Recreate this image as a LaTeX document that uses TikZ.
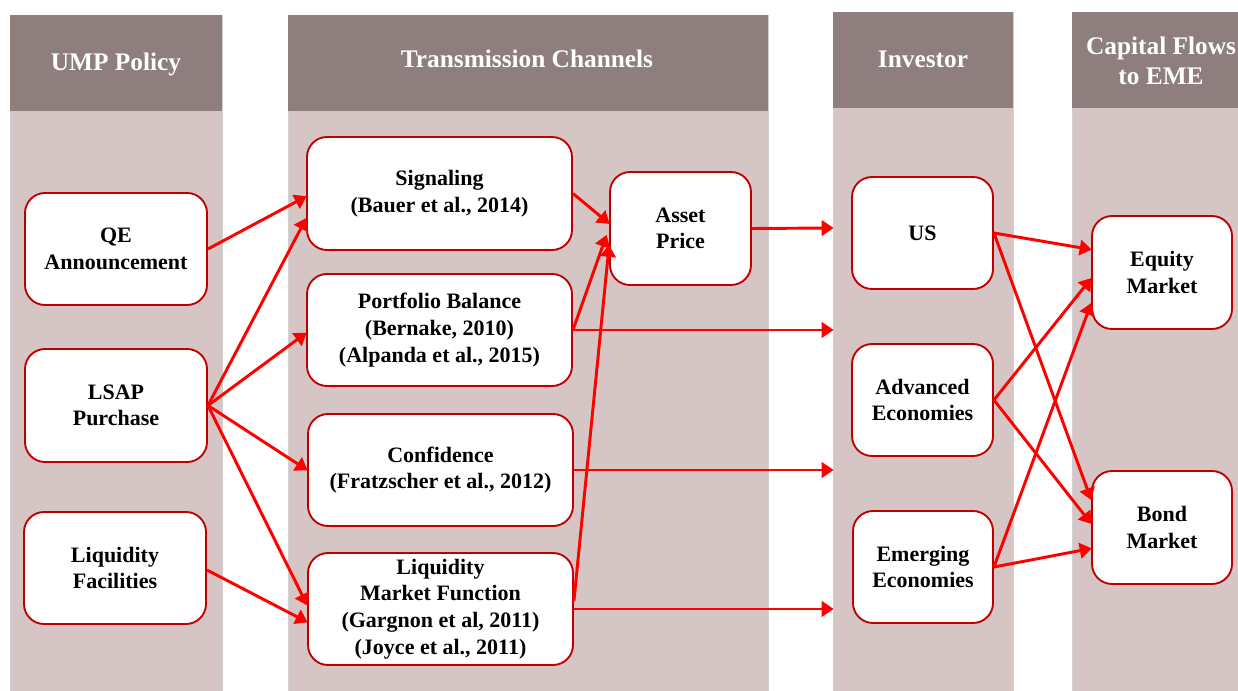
\documentclass[tikz,border=0pt]{standalone}
\usepackage{fontspec}
\setmainfont{Liberation Serif}
\usetikzlibrary{arrows.meta}
\definecolor{hdr}{RGB}{142,126,126}
\definecolor{bdy}{RGB}{213,197,197}
\definecolor{edgered}{RGB}{192,0,0}
\definecolor{arrred}{RGB}{255,0,0}
\begin{document}
\begin{tikzpicture}[x=0.75pt,y=-0.75pt,
  colbody/.style={fill=bdy, draw=black!18, line width=0.5pt},
  colhead/.style={fill=hdr, draw=none},
  htext/.style={text=white, font=\bfseries\fontsize{19}{23}\selectfont, align=center, inner sep=0pt},
  box/.style={draw=edgered, line width=1.4pt, fill=white, rounded corners=15pt, align=center, inner sep=0pt,
              font=\bfseries\fontsize{16.5}{20}\selectfont},
  arrow/.style={draw=arrred, line width=2.2pt, -{Triangle[length=9pt,width=11.5pt]}, shorten >=-0.5pt}
]
\useasboundingbox (0,0) rectangle (1238,691);
\fill[white] (0,0) rectangle (1238,691);

% columns
\draw[colbody] (10,15) rectangle (222,691);
\fill[colhead] (10,15) rectangle (222,111);
\draw[colbody] (288,15) rectangle (768,691);
\fill[colhead] (288,15) rectangle (768,111);
\draw[colbody] (833,12) rectangle (1013,691);
\fill[colhead] (833,12) rectangle (1013,108);
\draw[colbody] (1072,12) rectangle (1240,691);
\fill[colhead] (1072,12) rectangle (1240,108);

\node[htext] (h1) at (116,64) {UMP Policy};
\node[htext] (h2) at (527,59) {Transmission Channels};
\node[htext] (h3) at (923,59) {Investor};
\node[htext] (h4) at (1161,61) {Capital Flows\\to EME};

% boxes
\node[box, minimum width=136.5pt, minimum height=84pt] (qe) at (116,249) {QE\\Announcement};
\node[box, minimum width=136.5pt, minimum height=84.75pt] (lsap) at (116,405.5) {LSAP\\Purchase};
\node[box, minimum width=136.5pt, minimum height=84pt] (lf) at (115,568) {Liquidity\\Facilities};

\node[box, minimum width=198.75pt, minimum height=84.75pt] (sig) at (439.5,193.5) {Signaling\\(Bauer et al., 2014)};
\node[box, minimum width=198.75pt, minimum height=84pt] (port) at (439.5,330) {Portfolio Balance\\(Bernake, 2010)\\(Alpanda et al., 2015)};
\node[box, minimum width=198.75pt, minimum height=84pt] (conf) at (440.5,470) {Confidence\\(Fratzscher et al., 2012)};
\node[box, minimum width=198.75pt, minimum height=84pt] (lmf) at (440.5,609) {Liquidity\\Market Function\\(Gargnon et al, 2011)\\(Joyce et al., 2011)};

\node[box, minimum width=105.75pt, minimum height=84.75pt] (asset) at (680.5,228.5) {Asset\\Price};

\node[box, minimum width=105.75pt, minimum height=84pt] (us) at (922.5,233) {US};
\node[box, minimum width=105.75pt, minimum height=84pt] (adv) at (922.5,400) {Advanced\\Economies};
\node[box, minimum width=105pt, minimum height=84pt] (emg) at (923,567) {Emerging\\Economies};

\node[box, minimum width=105pt, minimum height=84.75pt] (eq) at (1162,272.5) {Equity\\Market};
\node[box, minimum width=105pt, minimum height=84.75pt] (bond) at (1162,527.5) {Bond\\Market};

% free ends at the Investor column edge
\coordinate (ia) at (833,228);
\coordinate (ip) at (833,330);
\coordinate (ic) at (833,470);
\coordinate (il) at (833,609);

% policy -> channels
\draw[arrow] (qe.east) -- ([yshift=-2.25pt]sig.west);
\draw[arrow] (lsap.east) -- ([yshift=-18.75pt]sig.west);
\draw[arrow] (lsap.east) -- ([yshift=-2.25pt]port.west);
\draw[arrow] (lsap.east) -- (conf.west);
\draw[arrow] (lsap.east) -- ([yshift=3pt]lmf.west);
\draw[arrow] ([yshift=-1.5pt]lf.east) -- ([yshift=-9.75pt]lmf.west);

% channels -> asset price
\draw[arrow] (sig.east) -- ([yshift=3.75pt]asset.west);
\draw[arrow] (port.east) -- ([xshift=-2pt,yshift=-5.25pt]asset.west);
\draw[arrow] ([yshift=6pt]lmf.east) -- ([yshift=-12.75pt]asset.west);

% channels -> investor
\draw[arrow] (asset.east) -- (ia);
\draw[arrow] (port.east) -- (ip);
\draw[arrow] (conf.east) -- (ic);
\draw[arrow] (lmf.east) -- (il);

% investor -> capital flows
\draw[arrow] (us.east) -- ([yshift=17.25pt]eq.west);
\draw[arrow] (us.east) -- ([yshift=21pt]bond.west);
\draw[arrow] (adv.east) -- ([yshift=-4.5pt]eq.west);
\draw[arrow] (adv.east) -- ([yshift=3pt]bond.west);
\draw[arrow] (emg.east) -- ([yshift=-23.25pt]eq.west);
\draw[arrow] (emg.east) -- ([yshift=-15.75pt]bond.west);
\end{tikzpicture}
\end{document}
